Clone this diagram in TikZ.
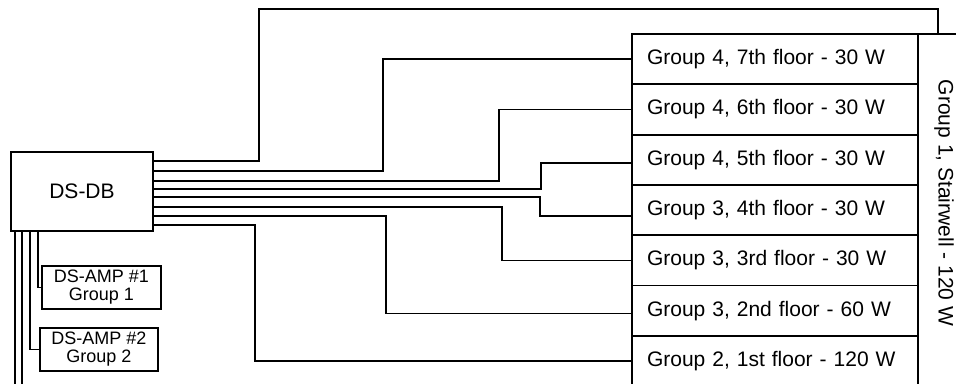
\documentclass[tikz,border=0pt]{standalone}
\usepackage{fontspec}
\setmainfont{Liberation Sans}
\usetikzlibrary{positioning}

\begin{document}
\begin{tikzpicture}[
x=1pt,y=-1pt,
font=\fontsize{21}{25}\selectfont,
floorbox/.style={draw,line width=1.8pt,outer sep=0pt,minimum height=50.3pt,text width=256pt,inner xsep=15pt,align=left},
ampbox/.style={draw,line width=1.6pt,outer sep=0pt,minimum height=43pt,align=center,font=\fontsize{18}{18}\selectfont},
wire/.style={line width=1.6pt}
]

\useasboundingbox (0,0) rectangle (956,383);
\clip (0,0) rectangle (956,383);

%%%%%%%%%%%%%%%%%%%%%%%%%%%%%%%%%%%%%%%%%%%%%%%%%%%%%%%%%%%%
% DS-DB and amplifiers
%%%%%%%%%%%%%%%%%%%%%%%%%%%%%%%%%%%%%%%%%%%%%%%%%%%%%%%%%%%%

\node[
draw,
line width=1.6pt,
outer sep=0pt,
minimum width=142pt,
minimum height=79pt
](db)
at (82,191.5)
{DS-DB};

\node[ampbox,minimum width=119pt](amp1) at (101.5,287.5) {DS-AMP \#1\\Group 1};

\node[ampbox,minimum width=118pt](amp2) at (99,349.5) {DS-AMP \#2\\Group 2};

\coordinate (drop1) at (22,390);
\coordinate (drop2) at (15,390);

%%%%%%%%%%%%%%%%%%%%%%%%%%%%%%%%%%%%%%%%%%%%%%%%%%%%%%%%%%%%
% Floors
%%%%%%%%%%%%%%%%%%%%%%%%%%%%%%%%%%%%%%%%%%%%%%%%%%%%%%%%%%%%

\node[floorbox,anchor=north west](f7) at (632,34) {Group 4, 7th floor - 30 W};
\node[floorbox,below=0pt of f7](f6) {Group 4, 6th floor - 30 W};
\node[floorbox,below=0pt of f6](f5) {Group 4, 5th floor - 30 W};
\node[floorbox,below=0pt of f5](f4) {Group 3, 4th floor - 30 W};
\node[floorbox,below=0pt of f4](f3) {Group 3, 3rd floor - 30 W};
\node[floorbox,below=0pt of f3](f2) {Group 3, 2nd floor - 60 W};
\node[floorbox,below=0pt of f2](f1) {Group 2, 1st floor - 120 W};

%%%%%%%%%%%%%%%%%%%%%%%%%%%%%%%%%%%%%%%%%%%%%%%%%%%%%%%%%%%%
% Stairwell
%%%%%%%%%%%%%%%%%%%%%%%%%%%%%%%%%%%%%%%%%%%%%%%%%%%%%%%%%%%%

\node[
draw,
line width=1.8pt,
outer sep=0pt,
minimum width=40pt,
minimum height=360pt,
anchor=north west
](stair)
at (f7.north east)
{};

\node[rotate=-90](stairtxt)
at ([xshift=6pt,yshift=11pt]stair.center)
{Group 1, Stairwell - 120 W};

%%%%%%%%%%%%%%%%%%%%%%%%%%%%%%%%%%%%%%%%%%%%%%%%%%%%%%%%%%%%
% Wiring
%%%%%%%%%%%%%%%%%%%%%%%%%%%%%%%%%%%%%%%%%%%%%%%%%%%%%%%%%%%%

\draw[wire] ([yshift=30.5pt]db.east) -| (259,9) -| (stair.north);
\draw[wire] ([yshift=20.5pt]db.east) -| ([xshift=-249pt]f7.west) -- (f7.west);
\draw[wire] ([yshift=10.5pt]db.east) -| ([xshift=-133pt]f6.west) -- (f6.west);
\draw[wire] ([yshift=2.5pt]db.east) -| ([xshift=-91pt,yshift=-3pt]f5.west) -- ([yshift=-3pt]f5.west);
\draw[wire] ([yshift=-5.5pt]db.east) -| ([xshift=-92pt,yshift=-6pt]f4.west) -- ([yshift=-6pt]f4.west);
\draw[wire] ([yshift=-15.5pt]db.east) -| ([xshift=-130pt]f3.west) -- (f3.west);
\draw[wire] ([yshift=-24.5pt]db.east) -| ([xshift=-246pt,yshift=-3pt]f2.west) -- ([yshift=-3pt]f2.west);
\draw[wire] ([yshift=-33.5pt]db.east) -| ([xshift=-377pt]f1.west) -- (f1.west);

\draw[wire] ([xshift=-44pt]db.south) |- (amp1.west);
\draw[wire] ([xshift=-52pt]db.south) |- (amp2.west);
\draw[wire] ([xshift=-60pt]db.south) -- (drop1);
\draw[wire] ([xshift=-67pt]db.south) -- (drop2);

\end{tikzpicture}
\end{document}
